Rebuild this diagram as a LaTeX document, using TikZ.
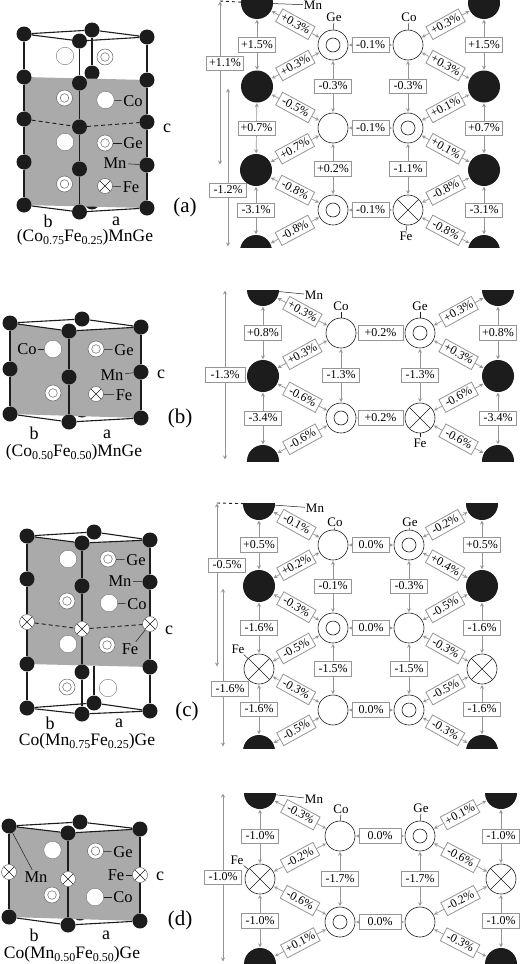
\documentclass[tikz,border=0pt]{standalone}
\usepackage{fontspec}
\setmainfont{Liberation Serif}
\usetikzlibrary{arrows.meta,backgrounds}
\definecolor{planegray}{RGB}{170,170,170}
\definecolor{boxgray}{RGB}{150,150,150}
\definecolor{atomblack}{RGB}{28,28,28}
\newcommand{\subnum}[1]{\raisebox{-3pt}{\fontsize{12}{12}\selectfont #1}}
\tikzset{
	mnatom/.style={circle, fill=atomblack, minimum size=32pt, inner sep=0pt},
	coatom/.style={circle, draw=atomblack, line width=.6pt, fill=white, minimum size=30pt, inner sep=0pt},
	geatom/.style={coatom, path picture={\draw[line width=.6pt] (path picture bounding box.center) circle (7pt);}},
	featom/.style={coatom, path picture={\draw[line width=.6pt] (path picture bounding box.north west) -- (path picture bounding box.south east) (path picture bounding box.north east) -- (path picture bounding box.south west);}},
	ball/.style={circle, fill=atomblack, minimum size=15pt, inner sep=0pt},
	whiteball/.style={circle, draw=black!55, line width=.4pt, fill=white, minimum size=17.5pt, inner sep=0pt},
	ringball/.style={circle, draw=black!60, line width=.5pt, fill=white, minimum size=16pt, inner sep=0pt, path picture={\draw[black!60, line width=.5pt] (path picture bounding box.center) circle (4.3pt);}},
	crossball/.style={circle, draw=black!60, line width=.5pt, fill=white, minimum size=15pt, inner sep=0pt, path picture={\draw[atomblack, line width=.5pt] (path picture bounding box.north west) -- (path picture bounding box.south east) (path picture bounding box.north east) -- (path picture bounding box.south west);}},
	pct/.style={draw=boxgray, line width=.8pt, fill=white, inner sep=0pt, minimum width=37pt, minimum height=14.5pt, text height=8pt, text depth=1.5pt, font=\fontsize{12}{12}\selectfont},
	bond/.style={<->, draw=boxgray, line width=.7pt, shorten <=.5pt, shorten >=.5pt},
	rtext/.style={inner sep=1pt, font=\fontsize{13}{13}\selectfont},
	ltext/.style={inner sep=1.5pt, font=\fontsize{16.5}{16.5}\selectfont},
	axis text/.style={inner sep=0pt, font=\fontsize{18}{18}\selectfont},
	tag/.style={inner sep=0pt, font=\fontsize{21}{21}\selectfont},
	formula/.style={inner sep=0pt, font=\fontsize{17.5}{17.5}\selectfont},
	leader/.style={draw=atomblack, line width=.5pt},
	cellline/.style={draw=atomblack, line width=1.1pt},
	cutline/.style={draw=atomblack, line width=.9pt, dashed, dash pattern=on 4pt off 3pt},
}
\begin{document}
\begin{tikzpicture}[x=1pt, y=-1pt, >={Stealth[open, length=4pt, width=4pt]}]
	\useasboundingbox (0,0) rectangle (520,964);

	% Cell (a)
	\node[ball] (caL1) at (24,34) {};
	\node[ball] (caL2) at (24,77) {};
	\node[ball] (caL3) at (24,119) {};
	\node[ball] (caL4) at (24,162) {};
	\node[ball] (caL5) at (24,205) {};
	\node[ball] (caF1) at (79.5,41) {};
	\node[ball] (caF2) at (79.5,83) {};
	\node[ball] (caF3) at (79.5,127) {};
	\node[ball] (caF4) at (79.5,169) {};
	\node[ball] (caF5) at (79.5,212) {};
	\node[ball] (caR1) at (147,37) {};
	\node[ball] (caR2) at (147,80) {};
	\node[ball] (caR3) at (147,122) {};
	\node[ball] (caR4) at (147,165) {};
	\node[ball] (caR5) at (147,208) {};
	\node[ball] (caB1) at (92,30) {};
	\begin{pgfonlayer}{background}
		\node[ball] (caB2) at (92,73) {};
		\node[ball] (caB3) at (92,202) {};
		\fill[planegray] (caL2.center) -- (caR2.center) -- (caR5.center) -- (caL5.center) -- cycle;
		\draw[cellline] (caL1) -- (caL2) -- (caL3) -- (caL4) -- (caL5);
		\draw[cellline] (caF1) -- (caF2) -- (caF3) -- (caF4) -- (caF5);
		\draw[cellline] (caR1) -- (caR2) -- (caR3) -- (caR4) -- (caR5);
		\draw[cellline] (caB1) -- (caB2);
		\draw[cellline] (caL1) -- (caB1) -- (caR1) -- (caF1) -- (caL1);
		\draw[cellline] (caL5) -- (caF5) -- (caR5);
		\draw[cutline] (caL3) -- (caF3) -- (caR3);
	\end{pgfonlayer}
	\node[whiteball] (caCo1) at (65,56) {};
	\node[ringball] (caGe1) at (105,57) {};
	\node[ringball] (caGe2) at (64.5,98) {};
	\node[whiteball] (caCo2) at (105.5,100) {};
	\node[whiteball] (caCo3) at (65,142) {};
	\node[ringball] (caGe3) at (105,143) {};
	\node[ringball] (caGe4) at (64.5,184) {};
	\node[crossball] (caFe1) at (105,186) {};
	\node[ltext] (caCoT) at (133,101) {Co};
	\node[ltext] (caGeT) at (133,143) {Ge};
	\node[ltext] (caMnT) at (115,163) {Mn};
	\node[ltext] (caFeT) at (131,187) {Fe};
	\draw[leader] (caCoT) -- (caCo2);
	\draw[leader] (caGeT) -- (caGe3);
	\draw[leader] (caMnT) -- (caR4);
	\draw[leader] (caFeT) -- (caFe1);
	\node[axis text] (caC) at (167,128) {c};
	\node[axis text] (caA) at (116,221) {a};
	\node[axis text] (caBb) at (48,221) {b};
	\node[tag] (caTag) at (185,207) {(a)};
	\node[formula] (caName) at (85,237) {(Co\subnum{0.75}Fe\subnum{0.25})MnGe};

	% Bond map (a)
	\begin{scope}
		\clip (230,0) rectangle (510,247.5);
		\node[mnatom] (aL1) at (257,3) {};
		\node[mnatom] (aL2) at (257,86.5) {};
		\node[mnatom] (aL3) at (256,170) {};
		\node[mnatom] (aL4) at (256,251) {};
		\node[mnatom] (aR1) at (484,3) {};
		\node[mnatom] (aR2) at (484,86.5) {};
		\node[mnatom] (aR3) at (484,170) {};
		\node[mnatom] (aR4) at (484,251) {};
	\end{scope}
	\node[geatom] (aP1) at (333,45) {};
	\node[coatom] (aP2) at (333,128) {};
	\node[geatom] (aP3) at (333,210) {};
	\node[coatom] (aQ1) at (408,45) {};
	\node[geatom] (aQ2) at (408,128) {};
	\node[featom] (aQ3) at (408,210) {};
	\draw[bond] (aL1) -- node[pct] (av1) {+1.5\%} (aL2);
	\draw[bond] (aL2) -- node[pct] (av2) {+0.7\%} (aL3);
	\draw[bond] (aL3) -- node[pct] (av3) {-3.1\%} (aL4);
	\draw[bond] (aR1) -- node[pct] (av4) {+1.5\%} (aR2);
	\draw[bond] (aR2) -- node[pct] (av5) {+0.7\%} (aR3);
	\draw[bond] (aR3) -- node[pct] (av6) {-3.1\%} (aR4);
	\draw[bond] (aP1) -- node[pct] (av7) {-0.3\%} (aP2);
	\draw[bond] (aP2) -- node[pct] (av8) {+0.2\%} (aP3);
	\draw[bond] (aQ1) -- node[pct] (av9) {-0.3\%} (aQ2);
	\draw[bond] (aQ2) -- node[pct] (av10) {-1.1\%} (aQ3);
	\draw[bond] (aP1) -- node[pct] (av11) {-0.1\%} (aQ1);
	\draw[bond] (aP2) -- node[pct] (av12) {-0.1\%} (aQ2);
	\draw[bond] (aP3) -- node[pct] (av13) {-0.1\%} (aQ3);
	\draw[bond] (aL1) -- node[pct, sloped] (av14) {+0.3\%} (aP1);
	\draw[bond] (aL2) -- node[pct, sloped] (av15) {+0.3\%} (aP1);
	\draw[bond] (aL2) -- node[pct, sloped] (av16) {-0.5\%} (aP2);
	\draw[bond] (aL3) -- node[pct, sloped] (av17) {+0.7\%} (aP2);
	\draw[bond] (aL3) -- node[pct, sloped] (av18) {-0.8\%} (aP3);
	\draw[bond] (aL4) -- node[pct, sloped] (av19) {-0.8\%} (aP3);
	\draw[bond] (aQ1) -- node[pct, sloped] (av20) {+0.3\%} (aR1);
	\draw[bond] (aQ1) -- node[pct, sloped] (av21) {+0.3\%} (aR2);
	\draw[bond] (aQ2) -- node[pct, sloped] (av22) {+0.1\%} (aR2);
	\draw[bond] (aQ2) -- node[pct, sloped] (av23) {+0.1\%} (aR3);
	\draw[bond] (aQ3) -- node[pct, sloped] (av24) {-0.8\%} (aR3);
	\draw[bond] (aQ3) -- node[pct, sloped] (av25) {-0.8\%} (aR4);
	\coordinate (aS1) at (220,1);
	\coordinate (aE1) at (220,165);
	\coordinate (aS2) at (228,88);
	\coordinate (aE2) at (228,247);
	\draw[bond] (aS1) -- node[pct, pos=.38, xshift=5pt] (av26) {+1.1\%} (aE1);
	\draw[bond] (aS2) -- node[pct, pos=.645] (av27) {-1.2\%} (aE2);
	\draw[atomblack, line width=.9pt, dashed] (aS1) -- (aL1);
	\node[rtext] (aMnT) at (313,5) {Mn};
	\node[rtext] (aGeT) at (334,17) {Ge};
	\node[rtext] (aCoT) at (409,17) {Co};
	\node[rtext] (aFeT) at (406,236) {Fe};
	\draw[leader] (aMnT) -- (aL1);
	\draw[leader] (aGeT) -- (aP1);
	\draw[leader] (aCoT) -- (aQ1);
	\draw[leader] (aFeT) -- (aQ3);

	% Cell (b)
	\node[ball] (cbL1) at (10,323) {};
	\node[ball] (cbL2) at (10,369) {};
	\node[ball] (cbL3) at (10,414) {};
	\node[ball] (cbF1) at (69,331) {};
	\node[ball] (cbF2) at (69,377) {};
	\node[ball] (cbF3) at (69,422) {};
	\node[ball] (cbR1) at (141,327) {};
	\node[ball] (cbR2) at (141,372) {};
	\node[ball] (cbR3) at (141,418) {};
	\begin{pgfonlayer}{background}
		\node[ball] (cbB1) at (82,319) {};
		\node[ball] (cbB2) at (82,410) {};
		\fill[planegray] (cbL1.center) -- (cbF1.center) -- (cbR1.center) -- (cbR3.center) -- (cbL3.center) -- cycle;
		\draw[cellline] (cbL1) -- (cbL2) -- (cbL3);
		\draw[cellline] (cbF1) -- (cbF2) -- (cbF3);
		\draw[cellline] (cbR1) -- (cbR2) -- (cbR3);
		\draw[cellline] (cbL1) -- (cbB1) -- (cbR1) -- (cbF1) -- (cbL1);
		\draw[cellline] (cbL3) -- (cbF3) -- (cbR3);
	\end{pgfonlayer}
	\node[whiteball] (cbCo1) at (53,349) {};
	\node[ringball] (cbGe1) at (96,349) {};
	\node[ringball] (cbGe2) at (53,393) {};
	\node[crossball] (cbFe1) at (96,394) {};
	\node[ltext] (cbCoT) at (27,349) {Co};
	\node[ltext] (cbGeT) at (124,350) {Ge};
	\node[ltext] (cbMnT) at (112,375) {Mn};
	\node[ltext] (cbFeT) at (124,395) {Fe};
	\draw[leader] (cbCoT) -- (cbCo1);
	\draw[leader] (cbGeT) -- (cbGe1);
	\draw[leader] (cbMnT) -- (cbR2);
	\draw[leader] (cbFeT) -- (cbFe1);
	\node[axis text] (cbC) at (161,374) {c};
	\node[axis text] (cbA) at (107,434) {a};
	\node[axis text] (cbBb) at (34,433) {b};
	\node[tag] (cbTag) at (180,418) {(b)};
	\node[formula] (cbName) at (74,452) {(Co\subnum{0.50}Fe\subnum{0.50})MnGe};

	% Bond map (b)
	\begin{scope}
		\clip (240,290) rectangle (520,461);
		\node[mnatom] (bL1) at (263,290) {};
		\node[mnatom] (bL2) at (263,376) {};
		\node[mnatom] (bL3) at (263,461) {};
		\node[mnatom] (bR1) at (498,290) {};
		\node[mnatom] (bR2) at (498,376) {};
		\node[mnatom] (bR3) at (498,461) {};
	\end{scope}
	\node[coatom] (bP1) at (341,333) {};
	\node[geatom] (bP2) at (341,418) {};
	\node[geatom] (bQ1) at (420,333) {};
	\node[featom] (bQ2) at (420,418) {};
	\draw[bond] (bL1) -- node[pct] (bv1) {+0.8\%} (bL2);
	\draw[bond] (bL2) -- node[pct] (bv2) {-3.4\%} (bL3);
	\draw[bond] (bR1) -- node[pct] (bv3) {+0.8\%} (bR2);
	\draw[bond] (bR2) -- node[pct] (bv4) {-3.4\%} (bR3);
	\draw[bond] (bP1) -- node[pct] (bv5) {-1.3\%} (bP2);
	\draw[bond] (bQ1) -- node[pct] (bv6) {-1.3\%} (bQ2);
	\draw[bond] (bP1) -- node[pct, minimum width=45pt] (bv7) {+0.2\%} (bQ1);
	\draw[bond] (bP2) -- node[pct, minimum width=45pt] (bv8) {+0.2\%} (bQ2);
	\draw[bond] (bL1) -- node[pct, sloped] (bv9) {+0.3\%} (bP1);
	\draw[bond] (bL2) -- node[pct, sloped] (bv10) {+0.3\%} (bP1);
	\draw[bond] (bL2) -- node[pct, sloped] (bv11) {-0.6\%} (bP2);
	\draw[bond] (bL3) -- node[pct, sloped] (bv12) {-0.6\%} (bP2);
	\draw[bond] (bQ1) -- node[pct, sloped] (bv13) {+0.3\%} (bR1);
	\draw[bond] (bQ1) -- node[pct, sloped] (bv14) {+0.3\%} (bR2);
	\draw[bond] (bQ2) -- node[pct, sloped] (bv15) {-0.6\%} (bR2);
	\draw[bond] (bQ2) -- node[pct, sloped] (bv16) {-0.6\%} (bR3);
	\coordinate (bS1) at (225,290);
	\coordinate (bE1) at (225,460);
	\draw[bond] (bS1) -- node[pct, minimum width=40pt] (bv17) {-1.3\%} (bE1);
	\node[rtext] (bMnT) at (314,295) {Mn};
	\node[rtext] (bCoT) at (341,306) {Co};
	\node[rtext] (bGeT) at (420,306) {Ge};
	\node[rtext] (bFeT) at (420,443) {Fe};
	\draw[leader] (bMnT) -- (bL1);
	\draw[leader] (bCoT) -- (bP1);
	\draw[leader] (bGeT) -- (bQ1);
	\draw[leader] (bFeT) -- (bQ2);

	% Cell (c)
	\node[ball] (ccL1) at (27,536) {};
	\node[ball] (ccL2) at (27,579) {};
	\node[crossball] (ccL3) at (27,622) {};
	\node[ball] (ccL4) at (27,664) {};
	\node[ball] (ccL5) at (27,708) {};
	\node[ball] (ccF1) at (82,543) {};
	\node[ball] (ccF2) at (82,586) {};
	\node[crossball] (ccF3) at (82,629) {};
	\node[ball] (ccF4) at (82,672) {};
	\node[ball] (ccF5) at (82,714) {};
	\node[ball] (ccR1) at (150,540) {};
	\node[ball] (ccR2) at (150,582) {};
	\node[crossball] (ccR3) at (150,624) {};
	\node[ball] (ccR4) at (150,667) {};
	\node[ball] (ccR5) at (150,711) {};
	\node[ball] (ccB3) at (94,703) {};
	\begin{pgfonlayer}{background}
		\node[ball] (ccB1) at (94,532) {};
		\coordinate (ccB2) at (94,666);
		\fill[planegray] (ccL1.center) -- (ccF1.center) -- (ccR1.center) -- (ccR4.center) -- (ccL4.center) -- cycle;
		\draw[cellline] (ccL1) -- (ccL2) -- (ccL3) -- (ccL4) -- (ccL5);
		\draw[cellline] (ccF1) -- (ccF2) -- (ccF3) -- (ccF4) -- (ccF5);
		\draw[cellline] (ccR1) -- (ccR2) -- (ccR3) -- (ccR4) -- (ccR5);
		\draw[cellline] (ccB2) -- (ccB3);
		\draw[cellline] (ccL1) -- (ccB1) -- (ccR1) -- (ccF1) -- (ccL1);
		\draw[cellline] (ccL5) -- (ccB3) -- (ccR5) -- (ccF5) -- (ccL5);
		\draw[cutline] (ccL3) -- (ccF3) -- (ccR3);
	\end{pgfonlayer}
	\node[whiteball] (ccCo1) at (68,559) {};
	\node[ringball] (ccGe1) at (108,559) {};
	\node[ringball] (ccGe2) at (67,601) {};
	\node[whiteball] (ccCo2) at (109,603) {};
	\node[whiteball] (ccCo3) at (68,644) {};
	\node[ringball] (ccGe3) at (107,645) {};
	\node[ringball] (ccGe4) at (67,687) {};
	\node[whiteball] (ccCo4) at (108,688) {};
	\node[ltext] (ccGeT) at (136,560) {Ge};
	\node[ltext] (ccMnT) at (120,581) {Mn};
	\node[ltext] (ccCoT) at (137,604) {Co};
	\node[ltext] (ccFeT) at (130,649) {Fe};
	\draw[leader] (ccGeT) -- (ccGe1);
	\draw[leader] (ccMnT) -- (ccR2);
	\draw[leader] (ccCoT) -- (ccCo2);
	\draw[leader] (ccFeT) -- (ccR3);
	\node[axis text] (ccC) at (169,630) {c};
	\node[axis text] (ccA) at (119,723) {a};
	\node[axis text] (ccBb) at (50,723) {b};
	\node[tag] (ccTag) at (187,711) {(c)};
	\node[formula] (ccName) at (87,741) {Co(Mn\subnum{0.75}Fe\subnum{0.25})Ge};

	% Bond map (c)
	\begin{scope}
		\clip (230,503) rectangle (510,748);
		\node[mnatom] (cL1) at (259,504) {};
		\node[mnatom] (cL2) at (259,586) {};
		\node[featom] (cL3) at (259,669) {};
		\node[mnatom] (cL4) at (259,751) {};
		\node[mnatom] (cR1) at (482,504) {};
		\node[mnatom] (cR2) at (482,586) {};
		\node[featom] (cR3) at (482,669) {};
		\node[mnatom] (cR4) at (482,751) {};
	\end{scope}
	\node[coatom] (cP1) at (333,545) {};
	\node[geatom] (cP2) at (333,628) {};
	\node[coatom] (cP3) at (333,710) {};
	\node[geatom] (cQ1) at (409,545) {};
	\node[coatom] (cQ2) at (409,628) {};
	\node[geatom] (cQ3) at (409,710) {};
	\draw[bond] (cL1) -- node[pct] (cv1) {+0.5\%} (cL2);
	\draw[bond] (cL2) -- node[pct] (cv2) {-1.6\%} (cL3);
	\draw[bond] (cL3) -- node[pct] (cv3) {-1.6\%} (cL4);
	\draw[bond] (cR1) -- node[pct] (cv4) {+0.5\%} (cR2);
	\draw[bond] (cR2) -- node[pct] (cv5) {-1.6\%} (cR3);
	\draw[bond] (cR3) -- node[pct] (cv6) {-1.6\%} (cR4);
	\draw[bond] (cP1) -- node[pct] (cv7) {-0.1\%} (cP2);
	\draw[bond] (cP2) -- node[pct] (cv8) {-1.5\%} (cP3);
	\draw[bond] (cQ1) -- node[pct] (cv9) {-0.3\%} (cQ2);
	\draw[bond] (cQ2) -- node[pct] (cv10) {-1.5\%} (cQ3);
	\draw[bond] (cP1) -- node[pct] (cv11) {0.0\%} (cQ1);
	\draw[bond] (cP2) -- node[pct] (cv12) {0.0\%} (cQ2);
	\draw[bond] (cP3) -- node[pct] (cv13) {0.0\%} (cQ3);
	\draw[bond] (cL1) -- node[pct, sloped] (cv14) {-0.1\%} (cP1);
	\draw[bond] (cL2) -- node[pct, sloped] (cv15) {+0.2\%} (cP1);
	\draw[bond] (cL2) -- node[pct, sloped] (cv16) {-0.3\%} (cP2);
	\draw[bond] (cL3) -- node[pct, sloped] (cv17) {-0.5\%} (cP2);
	\draw[bond] (cL3) -- node[pct, sloped] (cv18) {-0.3\%} (cP3);
	\draw[bond] (cL4) -- node[pct, sloped] (cv19) {-0.5\%} (cP3);
	\draw[bond] (cQ1) -- node[pct, sloped] (cv20) {-0.2\%} (cR1);
	\draw[bond] (cQ1) -- node[pct, sloped] (cv21) {+0.4\%} (cR2);
	\draw[bond] (cQ2) -- node[pct, sloped] (cv22) {-0.5\%} (cR2);
	\draw[bond] (cQ2) -- node[pct, sloped] (cv23) {-0.3\%} (cR3);
	\draw[bond] (cQ3) -- node[pct, sloped] (cv24) {-0.5\%} (cR3);
	\draw[bond] (cQ3) -- node[pct, sloped] (cv25) {-0.3\%} (cR4);
	\coordinate (cS1) at (217,503);
	\coordinate (cE1) at (217,667);
	\coordinate (cS2) at (223,588);
	\coordinate (cE2) at (223,747);
	\draw[bond] (cS1) -- node[pct, pos=.38, xshift=10pt] (cv26) {-0.5\%} (cE1);
	\draw[bond] (cS2) -- node[pct, pos=.635, xshift=7pt] (cv27) {-1.6\%} (cE2);
	\draw[atomblack, line width=.9pt, dashed] (cS1) -- (cL1);
	\node[rtext] (cMnT) at (315,508) {Mn};
	\node[rtext] (cCoT) at (335,522) {Co};
	\node[rtext] (cGeT) at (410,522) {Ge};
	\node[rtext] (cFeT) at (238,649) {Fe};
	\draw[leader] (cMnT) -- (cL1);
	\draw[leader] (cCoT) -- (cP1);
	\draw[leader] (cGeT) -- (cQ1);
	\draw[leader] (cFeT) -- (cL3);

	% Cell (d)
	\node[ball] (cdL1) at (9,826) {};
	\node[crossball] (cdL2) at (9,872) {};
	\node[ball] (cdL3) at (9,917) {};
	\node[ball] (cdF1) at (68,833) {};
	\node[crossball] (cdF2) at (68,879) {};
	\node[ball] (cdF3) at (68,925) {};
	\node[ball] (cdR1) at (140,829) {};
	\node[crossball] (cdR2) at (140,875) {};
	\node[ball] (cdR3) at (140,921) {};
	\begin{pgfonlayer}{background}
		\node[ball] (cdB1) at (80,822) {};
		\node[ball] (cdB2) at (80,913) {};
		\fill[planegray] (cdL1.center) -- (cdF1.center) -- (cdR1.center) -- (cdR3.center) -- (cdL3.center) -- cycle;
		\draw[cellline] (cdL1) -- (cdL2) -- (cdL3);
		\draw[cellline] (cdF1) -- (cdF2) -- (cdF3);
		\draw[cellline] (cdR1) -- (cdR2) -- (cdR3);
		\draw[cellline] (cdL1) -- (cdB1) -- (cdR1) -- (cdF1) -- (cdL1);
		\draw[cellline] (cdL3) -- (cdF3) -- (cdR3);
	\end{pgfonlayer}
	\node[whiteball] (cdCo1) at (52.5,850) {};
	\node[ringball] (cdGe1) at (95.5,851) {};
	\node[ringball] (cdGe2) at (52,895) {};
	\node[whiteball] (cdCo2) at (95,897) {};
	\node[ltext] (cdMnT) at (36,877) {Mn};
	\node[ltext] (cdGeT) at (123,852) {Ge};
	\node[ltext] (cdFeT) at (116,875) {Fe};
	\node[ltext] (cdCoT) at (123,897) {Co};
	\draw[leader] (cdMnT) -- (cdL1);
	\draw[leader] (cdGeT) -- (cdGe1);
	\draw[leader] (cdFeT) -- (cdR2);
	\draw[leader] (cdCoT) -- (cdCo2);
	\node[axis text] (cdC) at (160,876) {c};
	\node[axis text] (cdA) at (106,935) {a};
	\node[axis text] (cdBb) at (34,935) {b};
	\node[tag] (cdTag) at (180,920) {(d)};
	\node[formula] (cdName) at (72,954) {Co(Mn\subnum{0.50}Fe\subnum{0.50})Ge};

	% Bond map (d)
	\begin{scope}
		\clip (240,793) rectangle (520,963);
		\node[mnatom] (dL1) at (260,793) {};
		\node[featom] (dL2) at (260,879) {};
		\node[mnatom] (dL3) at (260,964) {};
		\node[mnatom] (dR1) at (501,793) {};
		\node[featom] (dR2) at (501,879) {};
		\node[mnatom] (dR3) at (501,964) {};
	\end{scope}
	\node[coatom] (dP1) at (340,836) {};
	\node[geatom] (dP2) at (340,922) {};
	\node[geatom] (dQ1) at (420,836) {};
	\node[coatom] (dQ2) at (420,922) {};
	\draw[bond] (dL1) -- node[pct] (dv1) {-1.0\%} (dL2);
	\draw[bond] (dL2) -- node[pct] (dv2) {-1.0\%} (dL3);
	\draw[bond] (dR1) -- node[pct] (dv3) {-1.0\%} (dR2);
	\draw[bond] (dR2) -- node[pct] (dv4) {-1.0\%} (dR3);
	\draw[bond] (dP1) -- node[pct] (dv5) {-1.7\%} (dP2);
	\draw[bond] (dQ1) -- node[pct] (dv6) {-1.7\%} (dQ2);
	\draw[bond] (dP1) -- node[pct, minimum width=42pt] (dv7) {0.0\%} (dQ1);
	\draw[bond] (dP2) -- node[pct, minimum width=42pt] (dv8) {0.0\%} (dQ2);
	\draw[bond] (dL1) -- node[pct, sloped] (dv9) {-0.3\%} (dP1);
	\draw[bond] (dL2) -- node[pct, sloped] (dv10) {-0.2\%} (dP1);
	\draw[bond] (dL2) -- node[pct, sloped] (dv11) {-0.6\%} (dP2);
	\draw[bond] (dL3) -- node[pct, sloped] (dv12) {+0.1\%} (dP2);
	\draw[bond] (dQ1) -- node[pct, sloped] (dv13) {+0.1\%} (dR1);
	\draw[bond] (dQ1) -- node[pct, sloped] (dv14) {-0.6\%} (dR2);
	\draw[bond] (dQ2) -- node[pct, sloped] (dv15) {-0.2\%} (dR2);
	\draw[bond] (dQ2) -- node[pct, sloped] (dv16) {-0.3\%} (dR3);
	\coordinate (dS1) at (223,793);
	\coordinate (dE1) at (223,962);
	\draw[bond] (dS1) -- node[pct] (dv17) {-1.0\%} (dE1);
	\node[rtext] (dMnT) at (314,799) {Mn};
	\node[rtext] (dCoT) at (341,809) {Co};
	\node[rtext] (dGeT) at (421,808) {Ge};
	\node[rtext] (dFeT) at (237,860) {Fe};
	\draw[leader] (dMnT) -- (dL1);
	\draw[leader] (dCoT) -- (dP1);
	\draw[leader] (dGeT) -- (dQ1);
	\draw[leader] (dFeT) -- (dL2);
\end{tikzpicture}
\end{document}
